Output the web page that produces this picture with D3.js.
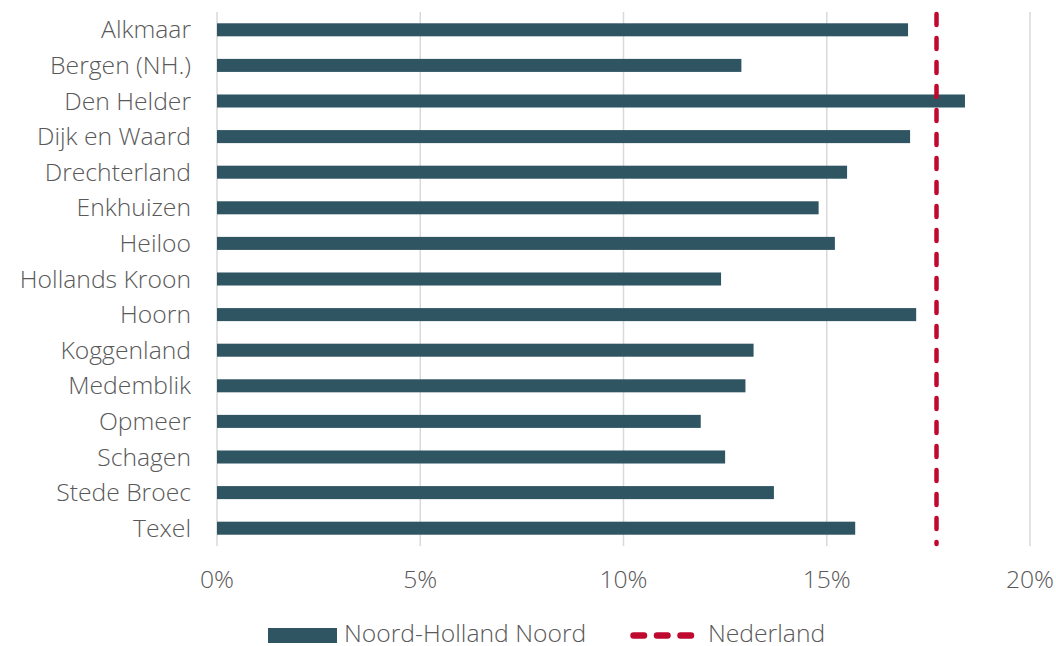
<!DOCTYPE html>
<html><head><meta charset="utf-8">
<script src="https://cdn.jsdelivr.net/npm/d3@7"></script>
<style>body{margin:0;background:#fff;} text{font-family:"Open Sans",sans-serif;font-weight:300;}</style>
</head><body>
<svg id="c" width="1056" height="646"></svg>
<script>
const categories = ["Alkmaar","Bergen (NH.)","Den Helder","Dijk en Waard","Drechterland","Enkhuizen","Heiloo","Hollands Kroon","Hoorn","Koggenland","Medemblik","Opmeer","Schagen","Stede Broec","Texel"];
const values = [17.0, 12.9, 18.4, 17.05, 15.5, 14.8, 15.2, 12.4, 17.2, 13.2, 13.0, 11.9, 12.5, 13.7, 15.7];
const nederland = 17.7;
const xTicks = [0, 5, 10, 15, 20];
const seriesNames = ["Noord-Holland Noord", "Nederland"];

(function () {
const svg = d3.select("#c");
const pLeft = 217, pRight = 1030, pTop = 12, pBottom = 546;
const fs = 24.7;
const x = d3.scaleLinear().domain([0, 20]).range([pLeft, pRight]);
const y = d3.scaleBand().domain(categories).range([pTop, pBottom]).paddingInner(0.634).paddingOuter(0.317);
const barColor = "#2f5563", red = "#c0092f", grid = "#d9d9d9", textCol = "#595959";

svg.append("g").selectAll("line").data(xTicks).join("line")
  .attr("x1", d => x(d)).attr("x2", d => x(d)).attr("y1", pTop).attr("y2", pBottom)
  .attr("stroke", grid).attr("stroke-width", 1.5);

svg.append("g").selectAll("rect").data(values).join("rect")
  .attr("x", x(0)).attr("y", (d, i) => y(categories[i]))
  .attr("width", d => x(d) - x(0)).attr("height", y.bandwidth())
  .attr("fill", barColor);

svg.append("line").attr("x1", x(nederland)).attr("x2", x(nederland))
  .attr("y1", pTop + 2).attr("y2", pBottom - 2)
  .attr("stroke", red).attr("stroke-width", 4.5).attr("stroke-linecap", "round")
  .attr("stroke-dasharray", "11,13");

svg.append("g").selectAll("text").data(categories).join("text")
  .attr("x", 191).attr("y", d => y(d) + y.bandwidth() / 2)
  .attr("dy", "0.35em").attr("text-anchor", "end")
  .attr("font-size", fs).attr("fill", textCol).text(d => d);

svg.append("g").selectAll("text").data(xTicks).join("text")
  .attr("x", d => x(d)).attr("y", 588).attr("text-anchor", "middle")
  .attr("font-size", fs).attr("fill", textCol).text(d => d + "%");

const lg = svg.append("g");
lg.append("rect").attr("x", 268).attr("y", 628).attr("width", 69).attr("height", 15).attr("fill", barColor);
lg.append("text").attr("x", 344).attr("y", 642).attr("font-size", fs).attr("fill", textCol).text(seriesNames[0]);
lg.append("line").attr("x1", 633.5).attr("x2", 693).attr("y1", 635.5).attr("y2", 635.5)
  .attr("stroke", red).attr("stroke-width", 6.5).attr("stroke-linecap", "round").attr("stroke-dasharray", "10.5,13");
lg.append("text").attr("x", 708).attr("y", 642).attr("font-size", fs).attr("fill", textCol).text(seriesNames[1]);
})();
</script>
</body></html>
